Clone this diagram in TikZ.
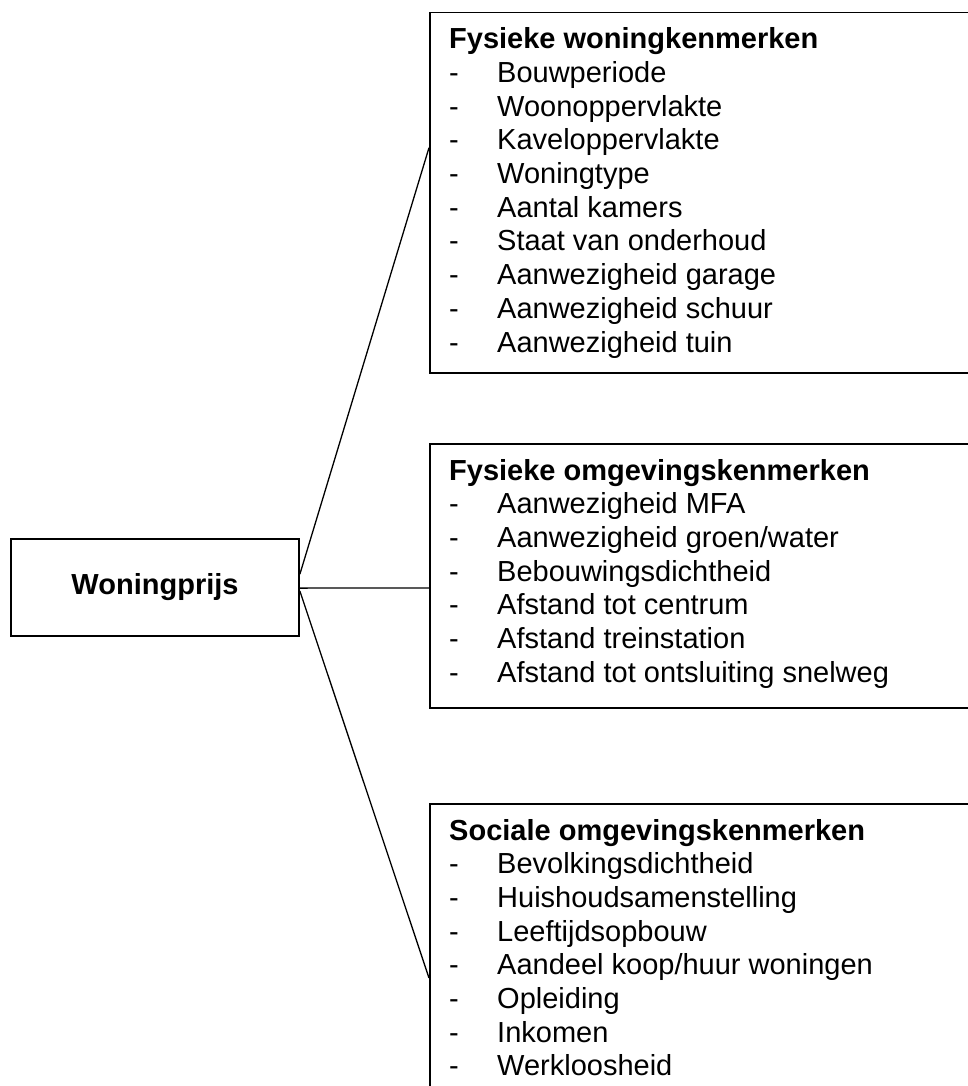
\documentclass[tikz,border=0pt]{standalone}
\usepackage{fontspec}
\setmainfont{Liberation Sans}
\usetikzlibrary{calc}
\begin{document}
\begin{tikzpicture}[x=1pt,y=-1pt,
  box/.style={draw=black,line width=1.8pt,inner sep=0pt,anchor=north west,minimum width=600pt},
  txt/.style={inner sep=0pt,anchor=base west,font=\fontsize{29}{33.7}\selectfont},
  head/.style={txt,font=\fontsize{29}{33.7}\selectfont\bfseries},
  conn/.style={draw=black,line width=1.3pt}]
\useasboundingbox (0,0) rectangle (968,1086);
% main box
\node[draw=black,line width=1.8pt,minimum width=288pt,minimum height=97pt,inner sep=0pt,
  font=\fontsize{29}{33.7}\selectfont\bfseries] (wp) at (155,587.5) {Woningprijs};
% boxes
\node[box,minimum height=360pt] (b1) at (429,11.7) {};
\node[box,minimum height=264pt] (b2) at (429,443) {};
\node[box,minimum height=300pt] (b3) at (429,803) {};
% box 1
\node[head] (h1) at ($(b1.north west)+(20,37)$) {Fysieke woningkenmerken};
\foreach \t [count=\i] in {Bouwperiode,Woonoppervlakte,Kaveloppervlakte,Woningtype,Aantal kamers,Staat van onderhoud,Aanwezigheid garage,Aanwezigheid schuur,Aanwezigheid tuin}{
  \node[txt] (b1d\i) at ($(h1.base west)+(0,33.7*\i)$) {-};
  \node[txt] (b1t\i) at ($(h1.base west)+(48,33.7*\i)$) {\t};
}
% box 2
\node[head] (h2) at ($(b2.north west)+(20,37)$) {Fysieke omgevingskenmerken};
\foreach \t [count=\i] in {Aanwezigheid MFA,Aanwezigheid groen/water,Bebouwingsdichtheid,Afstand tot centrum,Afstand treinstation,Afstand tot ontsluiting snelweg}{
  \node[txt] (b2d\i) at ($(h2.base west)+(0,33.7*\i)$) {-};
  \node[txt] (b2t\i) at ($(h2.base west)+(48,33.7*\i)$) {\t};
}
% box 3
\node[head] (h3) at ($(b3.north west)+(20,37)$) {Sociale omgevingskenmerken};
\foreach \t [count=\i] in {Bevolkingsdichtheid,Huishoudsamenstelling,Leeftijdsopbouw,Aandeel koop/huur woningen,Opleiding,Inkomen,Werkloosheid}{
  \node[txt] (b3d\i) at ($(h3.base west)+(0,33.7*\i)$) {-};
  \node[txt] (b3t\i) at ($(h3.base west)+(48,33.7*\i)$) {\t};
}
% connectors
\draw[conn] ($(wp.north east)+(0,36)$) -- ($(b1.north west)+(0,136)$);
\draw[conn] ($(wp.north east)+(0,50)$) -- ($(b2.north west)+(0,145)$);
\draw[conn] ($(wp.north east)+(0,53)$) -- ($(b3.north west)+(0,175)$);
\end{tikzpicture}
\end{document}
